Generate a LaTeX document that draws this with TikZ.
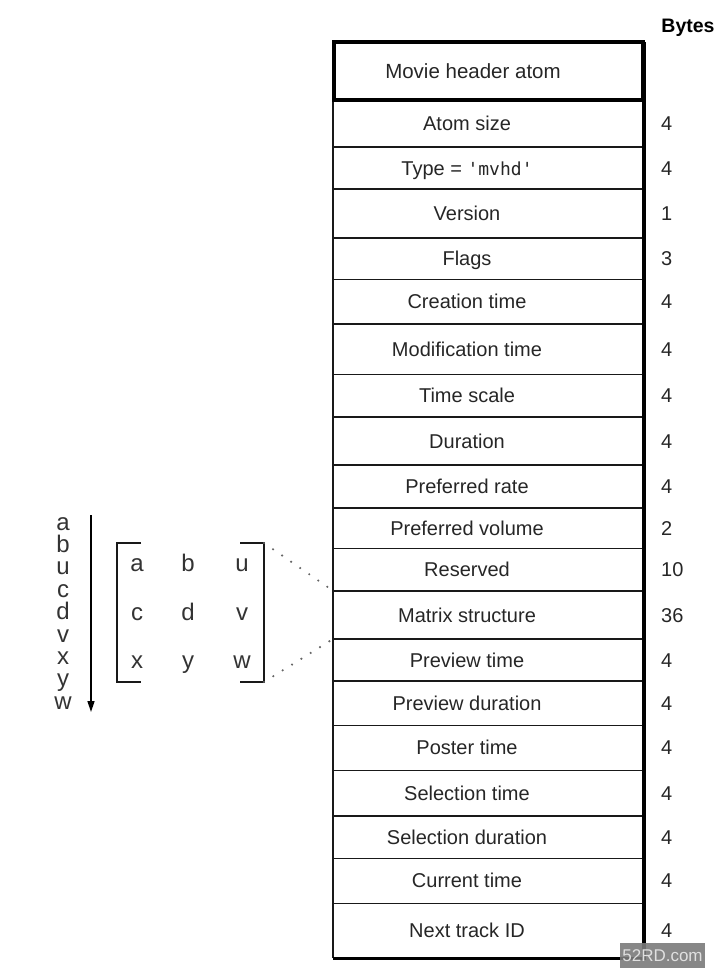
\documentclass[tikz,border=0pt]{standalone}
\usepackage{fontspec}
\setmainfont{Liberation Sans}
\newfontfamily\monof{DejaVu Sans Mono}
\usetikzlibrary{arrows.meta}
\begin{document}
\begin{tikzpicture}[x=1pt,y=-1pt,
  lab/.style={inner sep=0pt, font=\fontsize{20}{24}\selectfont, text=black!85, text height=14.3pt, text depth=0pt},
  num/.style={lab, anchor=west},
  hdrtxt/.style={lab, font=\fontsize{20.5}{24}\selectfont},
  bytestxt/.style={lab, font=\bfseries\fontsize{19.5}{24}\selectfont, text=black},
  rowline/.style={line width=1.6pt, black!90},
  thickedge/.style={line width=4pt, black},
  brk/.style={line width=1.5pt, black!90},
  mlet/.style={inner sep=0pt, anchor=base, font=\fontsize{24}{24}\selectfont, text=black!80},
  dotline/.style={line width=2.4pt, black!60, line cap=round, dash pattern=on 0pt off 11pt},
  arr/.style={line width=1.5pt, black, -{Triangle[length=11pt,width=7pt]}},
  wmark/.style={fill=black!52, fill opacity=0.9, text opacity=1, text=white!88!black, inner sep=0pt,
    minimum width=85pt, minimum height=25pt, font=\fontsize{17}{20}\selectfont}
]
\useasboundingbox (0,0) rectangle (716,980);

% Bytes label
\node[bytestxt] (bytes) at (688,25) {Bytes};

% rows
\foreach \t/\b/\txt/\n [count=\i] in {
  100/146.7/{Atom size}/4,
  146.7/189/{Type = {\monof\fontsize{18}{20}\selectfont 'mvhd'}}/4,
  189/237.7/{Version}/1,
  237.7/279.3/{Flags}/3,
  279.3/323.7/{Creation time}/4,
  323.7/374.3/{Modification time}/4,
  374.3/416.7/{Time scale}/4,
  416.7/465/{Duration}/4,
  465/507.7/{Preferred rate}/4,
  507.7/548.3/{Preferred volume}/2,
  548.3/590.7/{Reserved}/10,
  590.7/639/{Matrix structure}/36,
  639/680.7/{Preview time}/4,
  680.7/725.3/{Preview duration}/4,
  725.3/770.3/{Poster time}/4,
  770.3/815.7/{Selection time}/4,
  815.7/858.3/{Selection duration}/4,
  858.3/903.3/{Current time}/4,
  903.3/958.3/{Next track ID}/4}{
  \coordinate (L\i) at (333,\b);
  \coordinate (R\i) at (644,\b);
  \node[lab] (r\i) at (467,{(\t+\b)/2}) {\txt};
  \node[num] (n\i) at (661,{(\t+\b)/2}) {\n};
  \ifnum\i<19
    \draw[rowline] (L\i) -- (R\i);
  \fi
}

% outer box
\coordinate (topR) at (644,42);
\coordinate (botR) at (644,959.5);
\coordinate (topL) at (334,42);
\coordinate (hdrBR) at (643,100);
\draw[rowline] (333,100) -- (L19);
\draw[line width=2.6pt] (L19) -- (R19);
\draw[thickedge] (topR) -- (botR);
\draw[line width=4.5pt] (topL) rectangle (hdrBR);
\node[hdrtxt] (hdr) at (473,71) {Movie header atom};

% left column of letters with arrow
\foreach \l [count=\j from 0] in {a,b,u,c,d,v,x,y,w}{
  \node[mlet] (c\j) at (63,{530+22.4*\j}) {\l};
}
\coordinate (arrT) at (91,515);
\coordinate (arrB) at (91,712);
\draw[arr] (arrT) -- (arrB);

% matrix
\coordinate (blt) at (117,543);
\coordinate (blb) at (117,682);
\coordinate (brt) at (264,543);
\coordinate (brb) at (264,682);
\draw[brk] (141,543) -- (blt) -- (blb) -- (141,682);
\draw[brk] (240,543) -- (brt) -- (brb) -- (240,682);
\node[mlet] (m11) at (137,571) {a};
\node[mlet] (m12) at (188,571) {b};
\node[mlet] (m13) at (242,571) {u};
\node[mlet] (m21) at (137,620) {c};
\node[mlet] (m22) at (188,620) {d};
\node[mlet] (m23) at (242,620) {v};
\node[mlet] (m31) at (137,668) {x};
\node[mlet] (m32) at (188,668) {y};
\node[mlet] (m33) at (242,668) {w};

% dotted connectors to Matrix structure row
\draw[dotline] (brt) -- (L11);
\draw[dotline] (brb) -- (L12);

% watermark
\node[wmark] (wm) at (662.5,955.5) {52RD.com};
\end{tikzpicture}
\end{document}
